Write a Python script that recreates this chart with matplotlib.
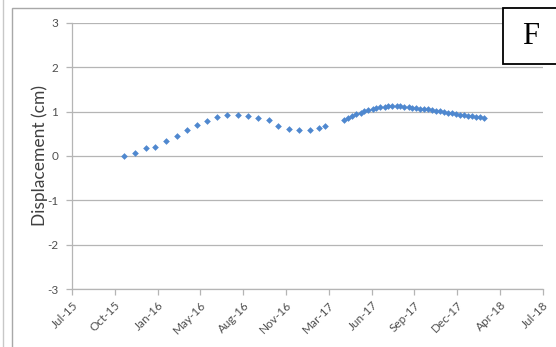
import numpy as np
import pandas as pd
import matplotlib
matplotlib.use("Agg")
import matplotlib.pyplot as plt
from matplotlib.patches import Rectangle

plt.rcParams['font.family'] = ['Lato', 'DejaVu Sans']
plt.rcParams['axes.unicode_minus'] = False

# first survey series (Nov 2015 - Feb 2017)
dates_a = ['2015-11-13', '2015-12-08', '2016-01-03', '2016-01-25', '2016-02-20',
           '2016-03-16', '2016-04-09', '2016-05-03', '2016-05-25', '2016-06-17',
           '2016-07-10', '2016-08-05', '2016-08-28', '2016-09-21', '2016-10-16',
           '2016-11-08', '2016-12-03', '2016-12-27', '2017-01-20', '2017-02-11',
           '2017-02-25']
disp_a = [0.00, 0.07, 0.17, 0.21, 0.33, 0.44, 0.58, 0.70, 0.79, 0.88,
          0.93, 0.93, 0.90, 0.85, 0.80, 0.67, 0.61, 0.58, 0.59, 0.64, 0.67]

# second survey series (Apr 2017 - Mar 2018)
dates_b = ['2017-04-11', '2017-04-20', '2017-04-30', '2017-05-09', '2017-05-19',
           '2017-05-28', '2017-06-06', '2017-06-16', '2017-06-25', '2017-07-04',
           '2017-07-14', '2017-07-23', '2017-08-01', '2017-08-11', '2017-08-20',
           '2017-08-29', '2017-09-08', '2017-09-17', '2017-09-26', '2017-10-06',
           '2017-10-15', '2017-10-24', '2017-11-03', '2017-11-12', '2017-11-21',
           '2017-12-01', '2017-12-10', '2017-12-19', '2017-12-29', '2018-01-07',
           '2018-01-16', '2018-01-26', '2018-02-04', '2018-02-13', '2018-02-23',
           '2018-03-04']
disp_b = [0.82, 0.86, 0.90, 0.94, 0.98, 1.01, 1.04, 1.06, 1.08, 1.10,
          1.11, 1.12, 1.12, 1.12, 1.12, 1.11, 1.10, 1.09, 1.08, 1.07,
          1.06, 1.05, 1.04, 1.02, 1.01, 0.99, 0.98, 0.96, 0.95, 0.93,
          0.92, 0.91, 0.90, 0.88, 0.87, 0.86]

# excel-style date axis: every 100 days from 15 Jul 2015
x_start = '2015-07-15'
x_step_days = 100
n_ticks = 12
y_ticks = [-3, -2, -1, 0, 1, 2, 3]

x0 = pd.Timestamp(x_start)
ta = (pd.to_datetime(dates_a) - x0).days.values
tb = (pd.to_datetime(dates_b) - x0).days.values
tick_pos = np.arange(n_ticks) * x_step_days
tick_lab = [(x0 + pd.Timedelta(days=int(d))).strftime('%b-%y') for d in tick_pos]

fig = plt.figure(figsize=(5.56, 3.47), dpi=100)
ax = fig.add_axes([0.1295, 0.167, 0.847, 0.767])

blue = '#4f88cf'
ax.plot(ta, disp_a, 'D', color=blue, markersize=3.4, markeredgewidth=0)
ax.plot(tb, disp_b, 'D', color=blue, markersize=3.4, markeredgewidth=0)

ax.set_xlim(tick_pos[0], tick_pos[-1])
ax.set_ylim(-3, 3)
ax.set_yticks(y_ticks)
ax.set_xticks(tick_pos)
ax.set_xticklabels(tick_lab, rotation=45, ha='right', rotation_mode='anchor')
ax.grid(axis='y', color='#b5b5b5', linewidth=0.9)
ax.set_axisbelow(True)
for s in ['top', 'right']:
    ax.spines[s].set_visible(False)
for s in ['left', 'bottom']:
    ax.spines[s].set_color('#b5b5b5')
    ax.spines[s].set_linewidth(0.9)
ax.tick_params(colors='#b5b5b5', labelcolor='#505050', labelsize=8.5, length=4, width=0.9)
ax.tick_params(axis='y', pad=6)
ax.set_ylabel('Displacement (cm)', fontsize=12.5, color='#404040', labelpad=-1)

# outer chart frame
fig.patches.append(Rectangle((12 / 556, -0.01), 1.0, 1 - 8 / 347 + 0.01,
                             transform=fig.transFigure, fill=False,
                             edgecolor='#a8a8a8', linewidth=1.0))
fig.patches.append(Rectangle((-0.01, -0.01), 3 / 556 + 0.01, 1.1,
                             transform=fig.transFigure, fill=False,
                             edgecolor='#c8c8c8', linewidth=1.0))

# panel letter
fig.patches.append(Rectangle((503 / 556, 1 - 64 / 347), 0.2, 56 / 347,
                             transform=fig.transFigure, facecolor='white',
                             edgecolor='black', linewidth=1.3))
fig.text(531 / 556, 1 - 37 / 347, 'F', fontsize=22, family='Liberation Serif',
         ha='center', va='center')

fig.savefig('out.png', dpi=100)
